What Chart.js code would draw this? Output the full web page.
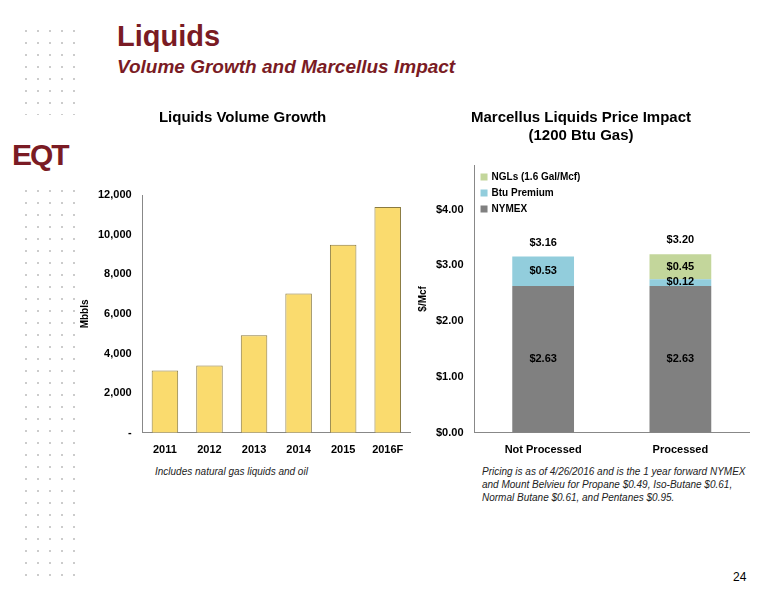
<!DOCTYPE html>
<html><head><meta charset="utf-8">
<script src="https://cdn.jsdelivr.net/npm/chart.js@4"></script>
<style>
body{margin:0;width:776px;height:600px;background:#fff;font-family:"Liberation Sans",Arial,sans-serif;position:relative;overflow:hidden}
.dots{position:absolute;background-image:radial-gradient(#ccc 1px,transparent 1.3px);background-size:12px 12px}
.t{position:absolute;color:#7a1b24;font-weight:bold}
.note{position:absolute;font-size:10px;font-style:italic;color:#222;line-height:13px}
canvas{position:absolute}
</style></head><body>
<div class="dots" style="left:20px;top:25px;width:62px;height:90px"></div>
<div class="dots" style="left:20px;top:185px;width:62px;height:400px"></div>
<div class="t" style="left:117px;top:20px;font-size:29px">Liquids</div>
<div class="t" style="left:117px;top:56px;font-size:19px;font-style:italic">Volume Growth and Marcellus Impact</div>
<div class="t" style="left:12px;top:138px;font-size:30px;letter-spacing:-2px">EQT</div>
<div class="note" style="left:155px;top:465px">Includes natural gas liquids and oil</div>
<div class="note" style="left:482px;top:465px">Pricing is as of 4/26/2016 and is the 1 year forward NYMEX<br>and Mount Belvieu for Propane $0.49, Iso-Butane $0.61,<br>Normal Butane $0.61, and Pentanes $0.95.</div>
<div style="position:absolute;left:733px;top:570px;font-size:12px">24</div>
<canvas id="c1" style="left:75px;top:100px;width:345px;height:360px" width="345" height="360"></canvas>
<canvas id="c2" style="left:413px;top:100px;width:350px;height:360px" width="350" height="360"></canvas>
<script>
const years=['2011','2012','2013','2014','2015','2016F'];
const volumes=[3150,3400,4920,7030,9490,11400];
const priceCats=['Not Processed','Processed'];
const nymex=[2.63,2.63];
const btuPremium=[0.53,0.12];
const ngls=[0,0.45];
const totals=['$3.16','$3.20'];
Chart.defaults.font.family='"Liberation Sans",Arial,sans-serif';
Chart.defaults.color='#000';
Chart.defaults.animation=false;
const ttl=(t,b)=>({display:true,text:t,font:{size:15,weight:'bold'},color:'#000',padding:{top:9,bottom:b}});

new Chart(document.getElementById('c1'),{
  type:'bar',
  data:{labels:years,datasets:[{data:volumes,backgroundColor:'#fadb6e',borderColor:'#8a7a40',borderWidth:1,categoryPercentage:0.7,barPercentage:0.85}]},
  options:{responsive:false,
    layout:{padding:{right:10}},
    plugins:{legend:{display:false},title:ttl('Liquids Volume Growth',68)},
    scales:{
      x:{grid:{display:false},border:{color:'#888'},ticks:{font:{size:11,weight:'bold'}}},
      y:{min:0,max:12000,ticks:{stepSize:2000,font:{size:11,weight:'bold'},callback:v=>v===0?'-':v.toLocaleString('en-US')},
         grid:{display:false},border:{color:'#888'},
         title:{display:true,text:'Mbbls',font:{size:10,weight:'bold'}}}
    }}
});

const labelPlugin={id:'lbl',afterDatasetsDraw(ch){
  const c=ch.ctx;c.save();c.font='bold 11px "Liberation Sans",Arial';c.textAlign='center';c.textBaseline='middle';c.fillStyle='#000';
  ch.data.datasets.forEach((ds,i)=>{ch.getDatasetMeta(i).data.forEach((b,j)=>{
    const v=ds.data[j];if(!v)return;
    const y=i===1&&j===1?b.y+3:(b.y+b.base)/2;
    c.fillText('$'+v.toFixed(2),b.x,y);});});
  const top=ch.getDatasetMeta(2).data;
  top.forEach((b,j)=>{const y=ch.scales.y.getPixelForValue(nymex[j]+btuPremium[j]+ngls[j]);c.fillText(totals[j],b.x,y-14);});
  // legend inside plot area
  c.textAlign='left';c.font='bold 10px "Liberation Sans",Arial';
  const x0=ch.chartArea.left+6;
  [...ch.data.datasets].reverse().forEach((ds,k)=>{
    const y=ch.chartArea.top+12+k*16;
    c.fillStyle=ds.backgroundColor;c.fillRect(x0,y-3.5,7,7);
    c.fillStyle='#000';c.fillText(ds.label,x0+11,y);});
  c.restore();}};

new Chart(document.getElementById('c2'),{
  type:'bar',
  data:{labels:priceCats,datasets:[
    {label:'NYMEX',data:nymex,backgroundColor:'#808080'},
    {label:'Btu Premium',data:btuPremium,backgroundColor:'#92cddc'},
    {label:'NGLs (1.6 Gal/Mcf)',data:ngls,backgroundColor:'#c3d69b'}]},
  plugins:[labelPlugin],
  options:{responsive:false,
    layout:{padding:{right:14}},
    datasets:{bar:{categoryPercentage:0.45,barPercentage:1}},
    plugins:{title:ttl(['Marcellus Liquids Price Impact','(1200 Btu Gas)'],20),legend:{display:false}},
    scales:{
      x:{stacked:true,grid:{display:false},border:{color:'#888'},ticks:{font:{size:11,weight:'bold'}}},
      y:{stacked:true,min:0,max:4.8,ticks:{stepSize:1,font:{size:11,weight:'bold'},callback:v=>Number.isInteger(v)?'$'+v.toFixed(2):null},
         grid:{display:false},border:{color:'#888'},
         title:{display:true,text:'$/Mcf',font:{size:10,weight:'bold'}}}
    }}
});
</script>
</body></html>
